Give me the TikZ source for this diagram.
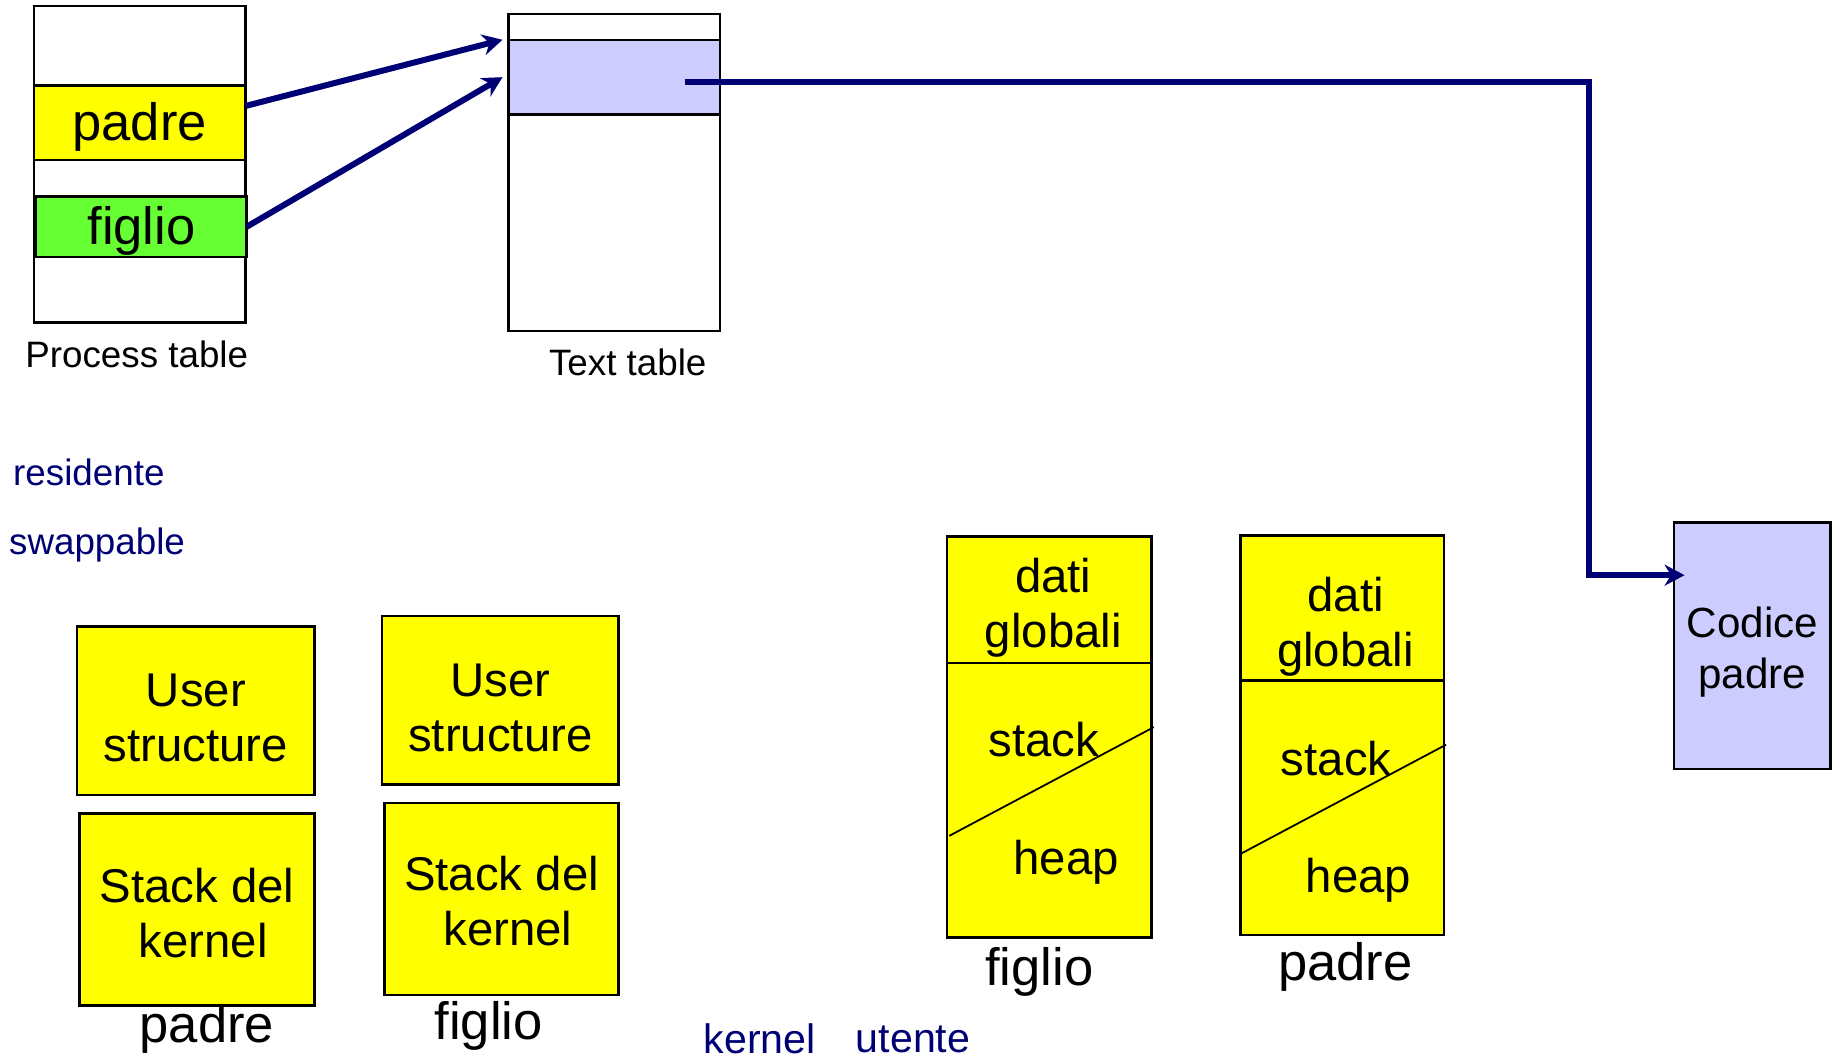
\documentclass[tikz,border=0pt]{standalone}
\usepackage{fontspec}
\setmainfont{Liberation Sans}
\usepackage{xcolor}
\usetikzlibrary{positioning}
\usetikzlibrary{calc,arrows.meta}
\definecolor{giallo}{HTML}{FFFF00}
\definecolor{verde}{HTML}{66FF33}
\definecolor{lilla}{HTML}{CCCCFF}
\definecolor{blu}{HTML}{000075}
\newdimen\px \px=0.585pt
\tikzset{
  cella/.style 2 args = {draw=black, line width=1.2pt, inner sep=0pt,
    outer sep=0pt, anchor=north west,
    minimum width=#1\px, minimum height=#2\px},% riquadro, angolo in alto a sinistra
  f_big/.style = {font=\fontsize{26.3pt}{31pt}\selectfont},% padre, figlio
  f_box/.style = {align=center, font=\fontsize{23.7pt}{27.5pt}\selectfont},% testo nei riquadri
  f_cod/.style = {align=center, font=\fontsize{21.1pt}{25.7pt}\selectfont},% codice
  f_tab/.style = {font=\fontsize{18.4pt}{22pt}\selectfont},% nomi tabelle
  f_blu/.style = {text=blu, font=\fontsize{18.4pt}{22pt}\selectfont},
  f_ku/.style = {text=blu, inner sep=0pt, font=\fontsize{20.6pt}{24pt}\selectfont},
  ptr/.style = {draw=blu, line width=3pt, -{Stealth[length=10pt, width=10.5pt]}},% puntatore
  taglio/.style = {draw=black, line width=0.9pt}
}

\begin{document}
\begin{tikzpicture}[x=0.585pt, y=-0.585pt]
\useasboundingbox (0,0) rectangle (1568,906);
% process table
\node [cella={181}{271}] (ptab) at (29,5) {};
\node [cella={181}{64}, fill=giallo] (p_padre) at (29,73) {};
\node [cella={180}{52}, fill=verde] (p_figlio) at (31,168) {};
\node [f_big] (t_padre) at ([yshift=-2.3pt]p_padre.center) {padre};
\node [f_big] (t_figlio) at ([yshift=-2.3pt]p_figlio.center) {figlio};
\node [f_tab] (l_ptab) at (117,303) {Process table};
% text table
\node [cella={181}{271}] (ttab) at (435,12) {};
\node [cella={181}{64}, fill=lilla] (t_riga) at (435,34) {};
\node [f_tab] (l_ttab) at (537,310) {Text table};
\draw [ptr] (p_padre.9) -- ([xshift=-3pt]t_riga.north west);
\draw [ptr] (p_figlio.east) -- ([xshift=-3pt]t_riga.west);
% codice
\node [cella={134}{211}, fill=lilla] (codice) at (1432,447) {};
\node [f_cod] (t_codice) at ([yshift=-3pt]codice.center) {Codice\\padre};
\coordinate (t_out) at (586,70);
\coordinate (gomito) at (1359,70);
\coordinate (c_in) at (1441,492);
\draw [ptr] (t_out) -- (gomito) |- (c_in);
% residente / swappable
\node [f_blu] (l_res) at (76,404) {residente};
\node [f_blu] (l_swap) at (83,466) {swappable};
% user structure e stack del kernel
\node [cella={203}{144}, fill=giallo] (us_padre) at (66,536) {};
\node [cella={201}{164}, fill=giallo] (sk_padre) at (68,696) {};
\node [f_box] (t_us_padre) at ([yshift=-3.5pt]us_padre.center) {User\\structure};
\node [f_box] (t_sk_padre) at ([yshift=-1.8pt]sk_padre.center) {Stack del\\\hspace*{6.4pt}kernel};
\node [f_big] (l_padre) at (177,880) {padre};
\node [cella={202}{144}, fill=giallo] (us_figlio) at (327,527) {};
\node [cella={200}{164}, fill=giallo] (sk_figlio) at (329,687) {};
\node [f_box] (t_us_figlio) at ([yshift=-4pt]us_figlio.center) {User\\structure};
\node [f_box] (t_sk_figlio) at ([yshift=-1.2pt]sk_figlio.center) {Stack del\\\hspace*{6.4pt}kernel};
\node [f_big] (l_figlio) at (418,878) {figlio};
\node [f_ku] (l_kernel) at (650,889) {kernel};
\node [f_ku] (l_utente) at (781,889) {utente};
% immagine figlio
\node [cella={175}{108}, fill=giallo] (d_figlio) at (810,459) {};
\node [cella={175}{235}, fill=giallo] (m_figlio) at (810,567) {};
\draw [taglio] (812,715) -- (987,622);
\node [f_box] (t_dati_f) at (901,520) {dati\\globali};
\node [f_box] (t_stack_f) at (893,633) {stack};
\node [f_box] (t_heap_f) at (912,738) {heap};
\node [f_big] (l_img_f) at (889,831) {figlio};
% immagine padre
\node [cella={174}{124}, fill=giallo] (d_padre) at (1061,458) {};
\node [cella={174}{218}, fill=giallo] (m_padre) at (1061,582) {};
\draw [taglio] (1062,730) -- (1237,637);
\node [f_box] (t_dati_p) at (1151,536) {dati\\globali};
\node [f_box] (t_stack_p) at (1143,649) {stack};
\node [f_box] (t_heap_p) at (1162,753) {heap};
\node [f_big] (l_img_p) at (1151,827) {padre};
\end{tikzpicture}
\end{document}
